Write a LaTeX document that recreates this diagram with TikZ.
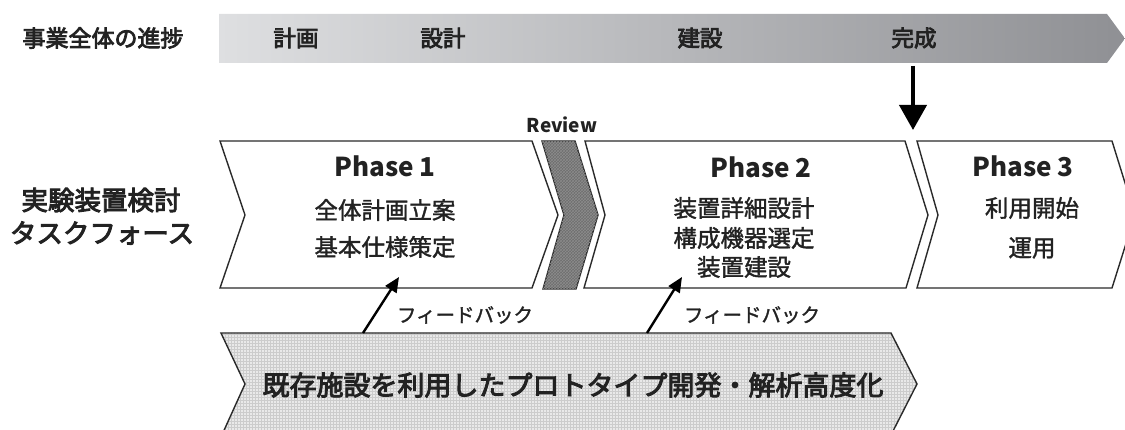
\documentclass[tikz,border=0pt]{standalone}
\usepackage{fontspec}
\setmainfont{Noto Sans CJK JP}
\newfontfamily\jpmed[FakeBold=3.5]{Noto Sans CJK JP}
\newfontfamily\jplight[FakeBold=1.5]{Noto Sans CJK JP}
\usetikzlibrary{arrows.meta,patterns,shadings}
\definecolor{barL}{HTML}{DEDFE1}
\definecolor{barR}{HTML}{8F9094}
\definecolor{edge}{HTML}{2A2A2A}
\definecolor{txt}{HTML}{222222}
\definecolor{revfill}{HTML}{6E6E6E}
\definecolor{protofill}{HTML}{E9E9E9}
\tikzset{
  lbl/.style={text=txt, inner sep=0pt, anchor=center},
  phasebox/.style={draw=edge, line width=1.4pt, fill=white, line join=miter},
  ptitle/.style={lbl, font=\fontsize{26}{26}\selectfont\bfseries},
  pline/.style={lbl, font=\fontsize{23.5}{23.5}\selectfont\jplight},
  toplbl/.style={lbl, font=\fontsize{22.5}{22.5}\selectfont\jpmed},
  fbarrow/.style={line width=2.4pt, draw=black, -{Triangle[length=15pt,width=13pt]}},
}
\begin{document}
\begin{tikzpicture}[x=1pt,y=-1pt]
\useasboundingbox (0,0) rectangle (1125,430);
\clip (0,0) rectangle (1125,430);
% top progress bar
\shade[left color=barL, right color=barR] (219,14) -- (1107,14) -- (1125,38.5) -- (1107,63) -- (219,63) -- cycle;
\node[toplbl, font=\fontsize{23}{23}\selectfont\jpmed] (prog) at (103,38) {事業全体の進捗};
\node[toplbl] (keikaku) at (296,38) {計画};
\node[toplbl] (sekkei) at (443,38) {設計};
\node[toplbl] (kensetsu) at (700,38) {建設};
\node[toplbl] (kansei) at (914,38) {完成};
\coordinate (downA) at (913,66);
\coordinate (downB) at (913,130);
\draw[line width=4pt, -{Triangle[length=25pt,width=27pt]}] (downA) -- (downB);
% phases
\draw[phasebox] (220,141) -- (532,141) -- (558,215) -- (532,288) -- (220,288) -- (245,215) -- cycle;
\draw[draw=edge, line width=1.4pt, fill=revfill] (542,141) -- (575,141) -- (598,215) -- (576,289) -- (543,289) -- (564,215) -- cycle;
\fill[pattern=crosshatch, pattern color=black!45] (542,141) -- (575,141) -- (598,215) -- (576,289) -- (543,289) -- (564,215) -- cycle;
\draw[phasebox] (585,141) -- (905,141) -- (928,215) -- (906,288) -- (584,288) -- (605,215) -- cycle;
\draw[phasebox] (917,141) -- (1112,141) -- (1135,215) -- (1112,288) -- (917,288) -- (938,215) -- cycle;
\node[lbl, font=\fontsize{19}{19}\selectfont\bfseries] (review) at (562,125) {Review};
\node[ptitle] (p1) at (385,166) {Phase 1};
\node[pline] (p1a) at (385,210) {全体計画立案};
\node[pline] (p1b) at (385,247) {基本仕様策定};
\node[ptitle] (p2) at (761,167) {Phase 2};
\node[pline] (p2a) at (744,208) {装置詳細設計};
\node[pline] (p2b) at (744,238) {構成機器選定};
\node[pline] (p2c) at (744,267) {装置建設};
\node[ptitle] (p3) at (1023,166) {Phase 3};
\node[pline] (p3a) at (1032,208) {利用開始};
\node[pline] (p3b) at (1032,248) {運用};
% left label
\node[lbl, font=\fontsize{26.5}{26.5}\selectfont\jpmed] (tf1) at (101,200) {実験装置検討};
\node[lbl, font=\fontsize{26.5}{26.5}\selectfont\jpmed] (tf2) at (102,233) {タスクフォース};
% prototype chevron
\fill[protofill] (221,333) -- (891,333) -- (917,384) -- (891,435) -- (221,437) -- (245,384) -- cycle;
\fill[pattern=grid, pattern color=gray!40] (221,333) -- (891,333) -- (917,384) -- (891,435) -- (221,437) -- (245,384) -- cycle;
\draw[draw=edge, line width=1.4pt] (221,437) -- (245,384) -- (221,333) -- (891,333) -- (917,384) -- (891,435);
\node[lbl, font=\fontsize{27}{27}\selectfont\jpmed] (proto) at (573,385) {既存施設を利用したプロトタイプ開発・解析高度化};
% feedback arrows
\coordinate (fb1s) at (363,333);
\coordinate (fb1e) at (399,277);
\coordinate (fb2s) at (647,333);
\coordinate (fb2e) at (682,277);
\draw[fbarrow] (fb1s) -- (fb1e);
\draw[fbarrow] (fb2s) -- (fb2e);
\node[lbl, font=\fontsize{19.5}{19.5}\selectfont\jplight] (fbl1) at (465,315) {フィードバック};
\node[lbl, font=\fontsize{19.5}{19.5}\selectfont\jplight] (fbl2) at (752,315) {フィードバック};
\end{tikzpicture}
\end{document}
